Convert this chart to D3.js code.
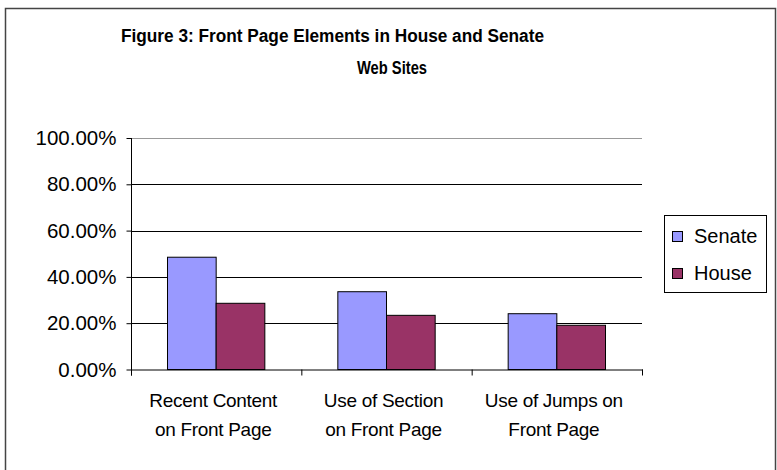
<!DOCTYPE html>
<html>
<head>
<meta charset="utf-8">
<script src="https://cdn.jsdelivr.net/npm/d3@7/dist/d3.min.js"></script>
<style>
  html, body { margin: 0; padding: 0; background: #fff; }
  svg { display: block; font-family: "Liberation Sans", Arial, sans-serif; }
</style>
</head>
<body>
<svg id="chart" width="777" height="470"></svg>
<script>
// Front page elements, share of sites using each, by chamber
const categories = [
  ["Recent Content", "on Front Page"],
  ["Use of Section", "on Front Page"],
  ["Use of Jumps on", "Front Page"]
];
const seriesNames = ["Senate", "House"];
const senateValues = [0.485, 0.336, 0.241];
const houseValues  = [0.286, 0.234, 0.191];
const yTicks = [0, 0.2, 0.4, 0.6, 0.8, 1.0];
const titleLines = ["Figure 3: Front Page Elements in House and Senate", "Web Sites"];
const colors = ["#9999FF", "#993366"];

const svg = d3.select("#chart");

// outer chart frame
svg.append("rect")
  .attr("x", 5.5).attr("y", 8.5)
  .attr("width", 770).attr("height", 480)
  .attr("fill", "none").attr("stroke", "#444").attr("stroke-width", 1.5);

// title (two lines, bold, condensed)
svg.append("text")
  .attr("x", 121).attr("y", 42)
  .attr("font-size", 17.5).attr("font-weight", "bold")
  .attr("textLength", 423).attr("lengthAdjust", "spacingAndGlyphs")
  .text(titleLines[0]);
svg.append("text")
  .attr("x", 357).attr("y", 73.5)
  .attr("font-size", 17.5).attr("font-weight", "bold")
  .attr("textLength", 70).attr("lengthAdjust", "spacingAndGlyphs")
  .text(titleLines[1]);

const plot = { left: 131, right: 642, top: 138, bottom: 369.5 };

const x0 = d3.scaleBand()
  .domain(d3.range(categories.length))
  .range([plot.left, plot.right])
  .paddingInner(0).paddingOuter(0);

// two bars per group, gap of 1.5 bar widths
const barW = x0.bandwidth() / 3.5;
const x1 = d3.scaleBand()
  .domain(seriesNames)
  .range([0, barW * 2]);

const y = d3.scaleLinear().domain([0, 1]).range([plot.bottom, plot.top]);

// horizontal gridlines
svg.append("g")
  .selectAll("line")
  .data(yTicks.filter(t => t > 0))
  .join("line")
  .attr("x1", plot.left).attr("x2", plot.right)
  .attr("y1", d => Math.round(y(d)) + 0.5).attr("y2", d => Math.round(y(d)) + 0.5)
  .attr("stroke", d => d === 1 ? "#999" : "#000")
  .attr("stroke-width", 1);

// bars
const data = categories.map((c, i) => ({ i, values: [senateValues[i], houseValues[i]] }));
const groups = svg.append("g").selectAll("g")
  .data(data)
  .join("g")
  .attr("transform", d => `translate(${x0(d.i) + (x0.bandwidth() - barW * 2) / 2},0)`);

groups.selectAll("rect")
  .data(d => d.values.map((v, k) => ({ v, k })))
  .join("rect")
  .attr("x", d => x1(seriesNames[d.k]))
  .attr("y", d => y(d.v))
  .attr("width", x1.bandwidth())
  .attr("height", d => y(0) - y(d.v))
  .attr("fill", d => colors[d.k])
  .attr("stroke", "#000")
  .attr("stroke-width", 1);

// y axis
const yAxis = d3.axisLeft(y)
  .tickValues(yTicks)
  .tickFormat(d3.format(".2%"))
  .tickSize(5)
  .tickPadding(10);
const gy = svg.append("g")
  .attr("transform", `translate(${plot.left + 0.5},0)`)
  .call(yAxis);
gy.select(".domain").attr("stroke", "#000").attr("d", `M-0,${plot.bottom + 6}V${plot.top}`);
gy.selectAll(".tick line").attr("stroke", "#000");
gy.selectAll(".tick text")
  .attr("font-size", 20.5)
  .attr("fill", "#000")
  .attr("font-family", "Liberation Sans, Arial, sans-serif");

// x axis: baseline with ticks at category boundaries
const gx = svg.append("g");
gx.append("line")
  .attr("x1", plot.left).attr("x2", plot.right + 1)
  .attr("y1", plot.bottom + 0.5).attr("y2", plot.bottom + 0.5)
  .attr("stroke", "#000");
gx.selectAll("line.tk")
  .data(d3.range(categories.length + 1))
  .join("line")
  .attr("class", "tk")
  .attr("x1", d => (d < categories.length ? x0(d) : plot.right) + 0.5)
  .attr("x2", d => (d < categories.length ? x0(d) : plot.right) + 0.5)
  .attr("y1", plot.bottom).attr("y2", plot.bottom + 6)
  .attr("stroke", "#000");

// category labels
const labels = svg.append("g").selectAll("text")
  .data(categories)
  .join("text")
  .attr("text-anchor", "middle")
  .attr("font-size", 19)
  .attr("letter-spacing", -0.3)
  .attr("fill", "#000");
labels.each(function(lines, i) {
  const cx = x0(i) + x0.bandwidth() / 2 - 3;
  d3.select(this).selectAll("tspan")
    .data(lines)
    .join("tspan")
    .attr("x", cx)
    .attr("y", (d, k) => 407 + k * 28.5)
    .text(d => d);
});

// legend
const legend = svg.append("g");
legend.append("rect")
  .attr("x", 664.5).attr("y", 215.5)
  .attr("width", 102).attr("height", 77)
  .attr("fill", "#fff").attr("stroke", "#000");
const items = legend.selectAll("g.item")
  .data(seriesNames)
  .join("g")
  .attr("class", "item")
  .attr("transform", (d, k) => `translate(0,${k * 37})`);
items.append("rect")
  .attr("x", 672.5).attr("y", 231.5)
  .attr("width", 10).attr("height", 10)
  .attr("fill", (d, k) => colors[k])
  .attr("stroke", "#000");
items.append("text")
  .attr("x", 694).attr("y", 243)
  .attr("font-size", 20)
  .attr("fill", "#000")
  .text(d => d);
</script>
</body>
</html>
